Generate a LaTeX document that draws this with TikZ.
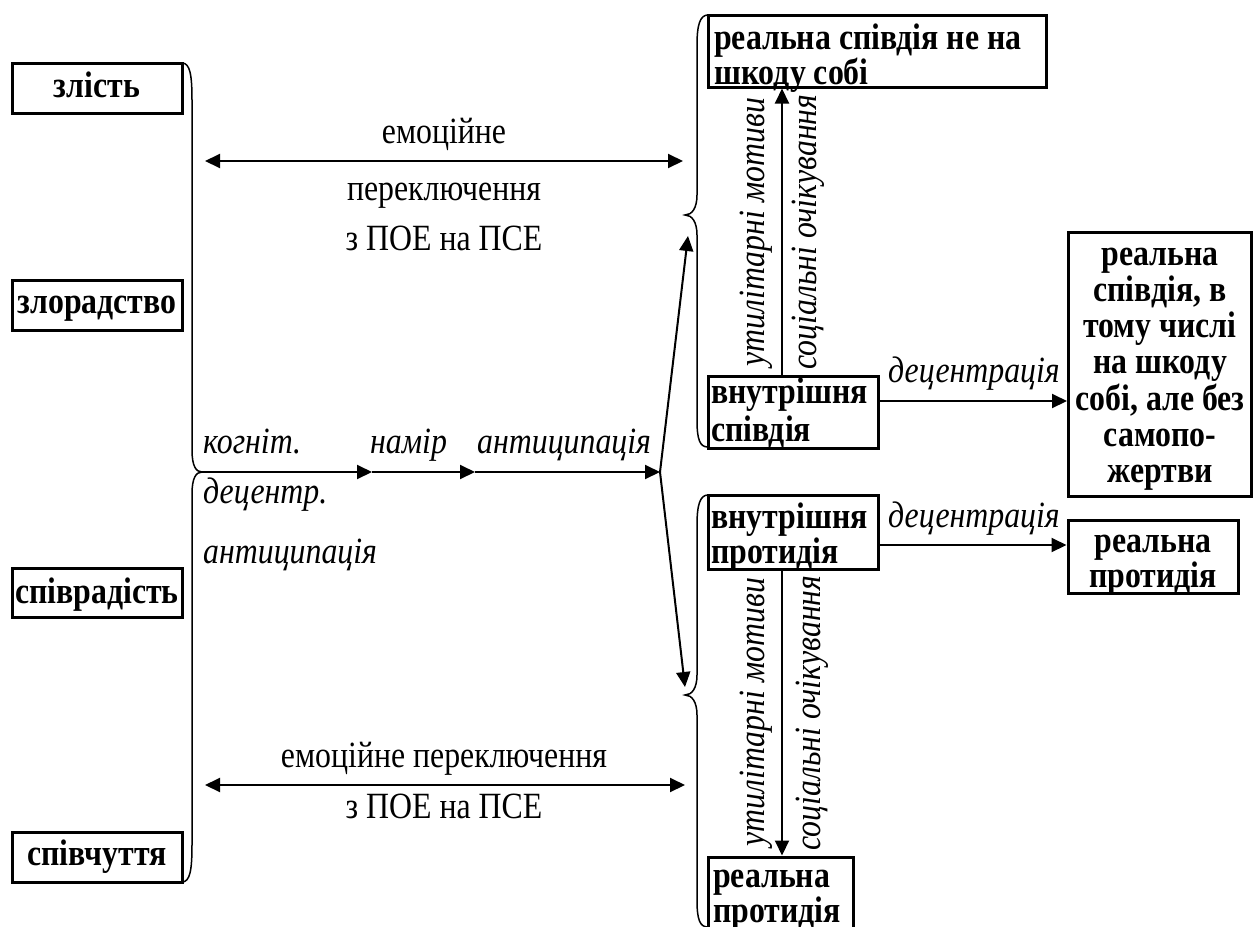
\documentclass[tikz,border=0pt]{standalone}
\usepackage{fontspec}
\setmainfont{Liberation Serif}[FakeStretch=0.86]
\usetikzlibrary{arrows.meta}
\newcommand\stackL[2]{\vtop{\hsize=400pt\parindent=0pt\lineskiplimit=-100pt\baselineskip=#1\raggedright #2\par}}
\newcommand\stackC[2]{\vtop{\hsize=400pt\parindent=0pt\lineskiplimit=-100pt\baselineskip=#1\centering #2\par}}
\begin{document}
\begin{tikzpicture}[x=1pt,y=-1pt,
  box/.style={draw, line width=3pt, inner sep=0pt},
  bt/.style={font=\fontsize{37}{36}\selectfont\bfseries, inner sep=0pt},
  it/.style={font=\fontsize{37}{36}\selectfont\itshape, inner sep=0pt},
  rt/.style={font=\fontsize{37}{36}\selectfont, inner sep=0pt},
  arr/.style={line width=2pt, -{Triangle[length=15pt,width=14pt]}},
  darr/.style={line width=2pt, {Triangle[length=15pt,width=14pt]}-{Triangle[length=15pt,width=14pt]}},
  brace/.style={line width=1.5pt}]
\useasboundingbox (0,0) rectangle (1254,927);
% boxes
\node[box, minimum width=170pt, minimum height=50pt] (zl) at (97,88) {};
\node[box, minimum width=170pt, minimum height=50pt] (zr) at (97,305) {};
\node[box, minimum width=170pt, minimum height=49pt] (sr) at (97,592.5) {};
\node[box, minimum width=170pt, minimum height=50pt] (sc) at (97,857) {};
\node[box, minimum width=338pt, minimum height=72pt] (r1) at (877,51) {};
\node[box, minimum width=170pt, minimum height=72pt] (vs) at (793,412) {};
\node[box, minimum width=183pt, minimum height=264pt] (bb) at (1160,364) {};
\node[box, minimum width=170pt, minimum height=74pt] (vp) at (793,532) {};
\node[box, minimum width=170pt, minimum height=73pt] (rp) at (1153,556.5) {};
\node[box, minimum width=145pt, minimum height=90pt] (bp) at (780.5,902) {};
% box texts
\node[bt, anchor=base] (tzl) at (97,97) {злість};
\node[bt, anchor=base] (tzr) at (97,313) {злорадство};
\node[bt, anchor=base] (tsr) at (97,603) {співрадість};
\node[bt, anchor=base] (tsc) at (97,865) {співчуття};
\node[bt, anchor=base west] (tr1) at (714,49) {\stackL{35pt}{реальна співдія не на\\шкоду собі}};
\node[bt, anchor=base west] (tvs) at (711,403) {\stackL{38pt}{внутрішня\\співдія}};
\node[bt, anchor=base] (tbb) at (1160,265) {\stackC{36.3pt}{реальна\\співдія, в\\тому числі\\на шкоду\\собі, але без\\самопо-\\жертви}};
\node[bt, anchor=base west] (tvp) at (711,528) {\stackL{35pt}{внутрішня\\протидія}};
\node[bt, anchor=base] (trp) at (1153,552) {\stackC{35pt}{реальна\\протидія}};
\node[bt, anchor=base west] (tbp) at (713,887) {\stackL{35pt}{реальна\\протидія}};
% labels
\node[rt, anchor=base] (em1) at (444,143) {емоційне};
\node[rt, anchor=base] (pk1) at (444,200) {переключення};
\node[rt, anchor=base] (pz1) at (444,250) {з ПОЕ на ПСЕ};
\node[rt, anchor=base] (em2) at (444,767) {емоційне переключення};
\node[rt, anchor=base] (pz2) at (444,818) {з ПОЕ на ПСЕ};
\node[it, anchor=base west] (kg) at (203,453) {когніт.};
\node[it, anchor=base west] (nm) at (370,453) {намір};
\node[it, anchor=base west] (an1) at (477,453) {антиципація};
\node[it, anchor=base west] (dc) at (203,503) {децентр.};
\node[it, anchor=base west] (an2) at (203,563) {антиципація};
\node[it, anchor=base west] (dz1) at (888,382) {децентрація};
\node[it, anchor=base west] (dz2) at (888,527) {децентрація};
\node[it, rotate=90] (ut1) at (756,232) {утилітарні мотиви};
\node[it, rotate=90] (so1) at (808,232) {соціальні очікування};
\node[it, rotate=90] (ut2) at (756,712) {утилітарні мотиви};
\node[it, rotate=90] (so2) at (812,713) {соціальні очікування};
% braces
\draw[brace] (182,63) .. controls (190,63) and (192,75) .. (192,100) -- (192,450)
  .. controls (192,466) and (196,472) .. (202,472)
  .. controls (196,472) and (192,478) .. (192,494) -- (192,845)
  .. controls (192,870) and (190,882) .. (182,882);
\draw[brace] (708,15) .. controls (700,15) and (697,25) .. (697,45) -- (697,195)
  .. controls (697,208) and (692,215) .. (685,215)
  .. controls (692,215) and (697,222) .. (697,235) -- (697,420)
  .. controls (697,440) and (700,447) .. (708,447);
\draw[brace] (708,495) .. controls (700,495) and (697,505) .. (697,525) -- (697,675)
  .. controls (697,688) and (692,695) .. (685,695)
  .. controls (692,695) and (697,702) .. (697,715) -- (697,900)
  .. controls (697,920) and (700,927) .. (708,927);
% coordinates
\coordinate (L) at (202,472);
\coordinate (n1) at (372,472);
\coordinate (n2) at (475,472);
\coordinate (F) at (660,472);
\coordinate (UT) at (688,236);
\coordinate (LT) at (685,687);
\coordinate (e1a) at (205,161);
\coordinate (e1b) at (683,161);
\coordinate (e2a) at (205,785);
\coordinate (e2b) at (685,785);
\path (vs.north) ++(-11,0) coordinate (vsN);
\coordinate (r1S) at (vsN |- r1.south);
\path (vs.east) ++(0,-11) coordinate (vsE);
\path (vp.east) ++(0,13) coordinate (vpE);
\path (vp.south) ++(-11,0) coordinate (vpS);
% connectors
\draw[darr] (e1a) -- (e1b);
\draw[darr] (e2a) -- (e2b);
\draw[arr] (L) -- (n1);
\draw[arr] (n1) -- (n2);
\draw[arr] (n2) -- (F);
\draw[arr] (F) -- (UT);
\draw[arr] (F) -- (LT);
\draw[arr] (vsN) -- (r1S);
\draw[arr] (vsE) -- (vsE -| bb.west);
\draw[arr] (vpE) -- (vpE -| rp.west);
\draw[arr] (vpS) -- (vpS |- bp.north);
\end{tikzpicture}
\end{document}
